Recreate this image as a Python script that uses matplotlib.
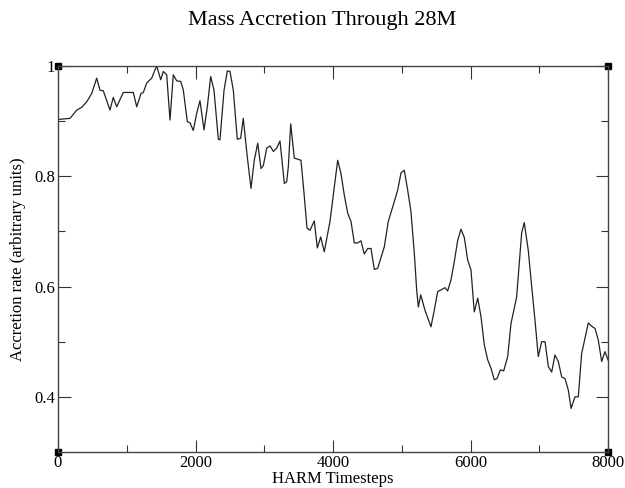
import matplotlib
matplotlib.use('Agg')
import matplotlib.pyplot as plt

# accretion rate (timestep, value)
timesteps = [0, 175, 272, 345, 417, 490, 563, 611, 659, 756, 804, 854, 950, 1095,
             1145, 1207, 1241, 1290, 1363, 1411, 1436, 1494, 1532, 1581, 1629, 1677,
             1727, 1785, 1823, 1881, 1920, 1968, 2017, 2065, 2124, 2172, 2221, 2269,
             2332, 2356, 2415, 2463, 2502, 2550, 2608, 2657, 2695, 2749, 2807, 2855,
             2905, 2953, 2986, 3036, 3084, 3132, 3181, 3229, 3292, 3326, 3350, 3385,
             3437, 3487, 3534, 3578, 3622, 3665, 3728, 3772, 3821, 3873, 3956, 4068,
             4116, 4164, 4214, 4262, 4310, 4359, 4407, 4455, 4505, 4553, 4601, 4650,
             4746, 4804, 4877, 4941, 4989, 5037, 5086, 5134, 5183, 5217, 5241, 5276,
             5338, 5425, 5473, 5523, 5571, 5629, 5668, 5716, 5764, 5814, 5862, 5910,
             5959, 6007, 6055, 6105, 6153, 6201, 6250, 6298, 6346, 6385, 6435, 6483,
             6541, 6589, 6671, 6744, 6782, 6840, 6890, 6938, 6986, 7035, 7084, 7132,
             7181, 7229, 7277, 7327, 7375, 7423, 7463, 7520, 7568, 7617, 7665, 7713,
             7763, 7811, 7859, 7908, 7956, 8000]
accretion = [0.903, 0.905, 0.920, 0.925, 0.935, 0.950, 0.978, 0.956, 0.955, 0.920,
             0.943, 0.926, 0.952, 0.952, 0.926, 0.950, 0.952, 0.969, 0.978, 0.993,
             1.000, 0.975, 0.990, 0.984, 0.902, 0.984, 0.973, 0.972, 0.956, 0.899,
             0.897, 0.883, 0.914, 0.937, 0.884, 0.926, 0.981, 0.956, 0.867, 0.866,
             0.956, 0.991, 0.990, 0.956, 0.867, 0.869, 0.905, 0.840, 0.778, 0.829,
             0.860, 0.814, 0.819, 0.851, 0.855, 0.845, 0.851, 0.864, 0.787, 0.790,
             0.817, 0.895, 0.833, 0.831, 0.829, 0.770, 0.706, 0.702, 0.719, 0.670,
             0.690, 0.663, 0.718, 0.829, 0.805, 0.766, 0.733, 0.718, 0.679, 0.679,
             0.683, 0.659, 0.669, 0.669, 0.631, 0.633, 0.672, 0.718, 0.748, 0.775,
             0.806, 0.811, 0.775, 0.736, 0.660, 0.594, 0.563, 0.585, 0.557, 0.527,
             0.557, 0.591, 0.594, 0.598, 0.592, 0.612, 0.645, 0.684, 0.704, 0.689,
             0.648, 0.630, 0.554, 0.579, 0.545, 0.494, 0.467, 0.452, 0.431, 0.433,
             0.449, 0.447, 0.473, 0.533, 0.581, 0.697, 0.716, 0.666, 0.600, 0.539,
             0.473, 0.500, 0.500, 0.455, 0.445, 0.476, 0.464, 0.436, 0.433, 0.412,
             0.379, 0.400, 0.400, 0.479, 0.506, 0.534, 0.528, 0.524, 0.503, 0.464,
             0.482, 0.467]

xmin, xmax = 0, 8000
ymin, ymax = 0.3, 1.0
xticks = [0, 2000, 4000, 6000, 8000]
xminor = [1000, 3000, 5000, 7000]
yticks = [0.4, 0.6, 0.8, 1.0]
yticklabels = ['0.4', '0.6', '0.8', '1']
yminor = [0.5, 0.7, 0.9]

plt.rcParams['font.family'] = ['Liberation Serif', 'DejaVu Serif']

fig = plt.figure(figsize=(6.25, 4.88), dpi=100)
ax = fig.add_axes([0.0928, 0.0738, 0.88, 0.791])

ax.plot(timesteps, accretion, color='#222222', linewidth=0.9)

ax.set_xlim(xmin, xmax)
ax.set_ylim(ymin, ymax)
ax.set_xticks(xticks)
ax.set_xticks(xminor, minor=True)
ax.set_yticks(yticks)
ax.set_yticklabels(yticklabels)
ax.set_yticks(yminor, minor=True)
ax.tick_params(which='both', direction='in', top=True, right=True,
               labelsize=12, color='#333333', width=0.8, pad=2)
ax.tick_params(which='major', length=9)
ax.tick_params(which='minor', length=5)
for s in ax.spines.values():
    s.set_color('#444444')
    s.set_linewidth(1.0)

# corner squares like the original frame
ax.plot([xmin, xmax, xmin, xmax], [ymin, ymin, ymax, ymax], 's',
        color='black', markersize=5, clip_on=False)

ax.set_xlabel('HARM Timesteps', fontsize=12, labelpad=0)
ax.set_ylabel('Accretion rate (arbitrary units)', fontsize=12, labelpad=6)
fig.text(0.515, 0.957, 'Mass Accretion Through 28M', ha='center', va='center',
         fontsize=16)

fig.savefig('out.png', dpi=100)
